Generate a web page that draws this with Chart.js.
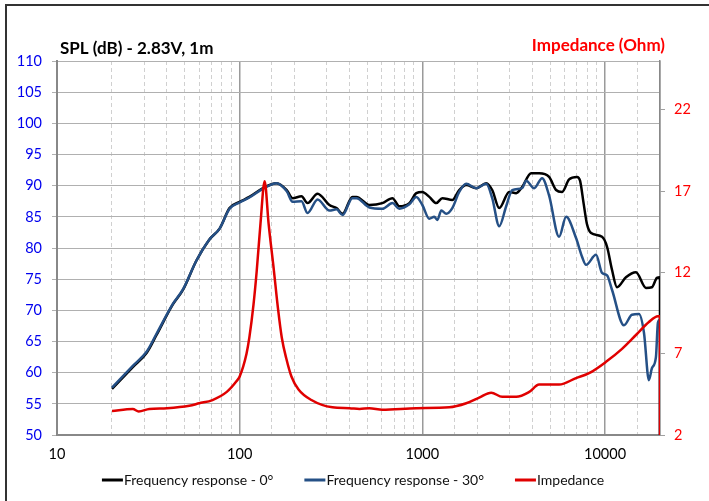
<!DOCTYPE html>
<html>
<head>
<meta charset="utf-8">
<script src="https://cdn.jsdelivr.net/npm/chart.js@4.4.1/dist/chart.umd.min.js"></script>
<style>
  html, body { margin: 0; padding: 0; background: #fff; }
  #wrap { width: 709px; height: 501px; position: relative; }
</style>
</head>
<body>
<div id="wrap"><canvas id="chart"></canvas></div>
<script>
// frequency response, 0 degrees
const freq0 = [20, 26, 31, 35, 43, 49, 58, 68, 78, 88,
  100, 113, 134, 159, 181, 195, 218, 235, 267, 310,
  339, 366, 414, 436, 513, 604, 686, 748, 849, 927,
  1000, 1092, 1192, 1286, 1459, 1592, 1739, 1972, 2238, 2413,
  2636, 2988, 3264, 3520, 3941, 4357, 4943, 5396, 5822, 6359,
  7030, 7300, 7650, 7970, 8390, 9630, 10260, 10920, 11630, 13020,
  14770, 16750, 18060, 19240, 20000, 20000];
const spl0 = [57.4, 60.9, 63.2, 66.0, 70.9, 73.3, 78.0, 81.3, 83.2, 86.4,
  87.4, 88.2, 89.6, 90.4, 89.3, 88.0, 88.3, 87.2, 88.7, 86.9,
  86.4, 85.5, 88.2, 88.2, 86.9, 87.2, 88.0, 86.7, 87.2, 88.8,
  89.0, 88.2, 87.2, 88.0, 87.7, 89.3, 90.1, 89.6, 90.4, 89.3,
  86.4, 89.0, 88.8, 89.8, 92.0, 92.0, 91.4, 89.3, 89.0, 91.0,
  91.4, 90.8, 87.0, 83.8, 82.4, 81.8, 80.2, 76.5, 73.7, 75.3,
  76.1, 73.6, 73.7, 75.2, 75.3, 40];

// frequency response, 30 degrees
const freq30 = [20, 26, 31, 35, 43, 49, 58, 68, 78, 88,
  100, 113, 134, 159, 181, 195, 218, 235, 267, 310,
  339, 366, 414, 436, 513, 604, 686, 748, 849, 927,
  1000, 1092, 1163, 1208, 1270, 1352, 1459, 1592, 1739, 1972,
  2238, 2413, 2636, 2877, 3104, 3520, 3700, 4093, 4526, 4943,
  5607, 6124, 6941, 7488, 7870, 8931, 9630, 10260, 10920, 12700,
  14050, 15340, 16340, 17390, 18060, 19000, 19480, 20000, 20000];
const spl30 = [57.6, 61.1, 63.4, 66.2, 71.0, 73.4, 78.0, 81.3, 83.2, 86.3,
  87.3, 88.1, 89.5, 90.4, 89.1, 87.4, 87.5, 85.6, 87.8, 86.0,
  86.2, 85.3, 88.0, 88.0, 86.5, 86.3, 87.2, 86.3, 87.0, 88.2,
  86.9, 84.7, 85.0, 84.5, 86.0, 85.5, 86.4, 89.0, 90.3, 89.6,
  90.3, 88.0, 83.5, 86.7, 89.3, 89.6, 90.8, 89.6, 91.2, 88.4,
  81.8, 85.0, 81.6, 78.6, 77.3, 78.9, 76.0, 75.6, 73.3, 67.6,
  69.3, 69.4, 66.4, 58.8, 60.7, 62.5, 68.0, 68.5, 40];

// impedance
const impFreq = [20, 26, 28, 32, 40, 53, 60, 71, 85, 96,
  100, 109, 113, 119, 124, 130, 137, 144, 154, 162,
  170, 180, 192, 210, 247, 322, 399, 453, 513, 604,
  927, 1405, 1739, 2047, 2383, 2737, 3264, 3846, 4357, 5130,
  5607, 6941, 8177, 10127, 12390, 14770, 17390, 19480, 20000, 20000];
const imp = [3.48, 3.6, 3.45, 3.6, 3.65, 3.8, 3.95, 4.15, 4.65, 5.3,
  5.6, 7.0, 8.0, 10.0, 12.1, 15.0, 17.6, 15.0, 12.1, 9.8,
  8.0, 6.7, 5.6, 4.8, 4.15, 3.7, 3.65, 3.6, 3.65, 3.55,
  3.65, 3.7, 3.95, 4.3, 4.6, 4.35, 4.35, 4.65, 5.1, 5.1,
  5.1, 5.5, 5.8, 6.5, 7.3, 8.15, 8.95, 9.3, 9.3, 0];

const decades = [10, 100, 1000, 10000];
const impTicks = [2, 7, 12, 17, 22];
const seriesNames = ["Frequency response - 0°", "Frequency response - 30°", "Impedance"];

const FONT = 'Lato, "Noto Sans", sans-serif';
Chart.defaults.font.family = FONT;

function pts(xs, ys) {
  return xs.map((x, i) => ({ x: x, y: ys[i] }));
}

// titles, frame and legend drawn on top
const decor = {
  id: "decor",
  afterDraw(chart) {
    const c = chart.ctx;
    c.save();
    // outer frame (only top/left visible)
    c.strokeStyle = "#333";
    c.lineWidth = 2;
    c.beginPath();
    c.moveTo(6, 501);
    c.lineTo(6, 5);
    c.lineTo(709, 5);
    c.stroke();

    c.textBaseline = "alphabetic";
    c.font = "bold 17px " + FONT;
    c.fillStyle = "#000";
    c.textAlign = "left";
    c.fillText("SPL (dB) - 2.83V, 1m", 60, 54);
    c.fillStyle = "#ff0000";
    c.textAlign = "right";
    c.fillText("Impedance (Ohm)", 665, 51);

    // legend
    c.font = "14px " + FONT;
    c.textAlign = "left";
    c.textBaseline = "middle";
    const ds = chart.data.datasets;
    const widths = ds.map(d => 22 + c.measureText(d.label).width);
    const gap = 31;
    const total = widths.reduce((a, b) => a + b, 0) + gap * (ds.length - 1);
    let x = 353 - total / 2;
    const y = 480;
    ds.forEach((d, i) => {
      c.strokeStyle = d.borderColor;
      c.lineWidth = 3;
      c.beginPath();
      c.moveTo(x, y);
      c.lineTo(x + 21, y);
      c.stroke();
      c.fillStyle = "#111";
      c.fillText(d.label, x + 22, y);
      x += widths[i] + gap;
    });
    c.restore();
  }
};

const isMajor = v => decades.includes(v) || v === 20000;

new Chart(document.getElementById("chart"), {
  type: "line",
  data: {
    datasets: [
      { label: seriesNames[0], data: pts(freq0, spl0), borderColor: "#000000", borderWidth: 2.5, yAxisID: "y", order: 3 },
      { label: seriesNames[1], data: pts(freq30, spl30), borderColor: "#255086", borderWidth: 2.5, yAxisID: "y", order: 2 },
      { label: seriesNames[2], data: pts(impFreq, imp), borderColor: "#e00000", borderWidth: 2.5, yAxisID: "y2", order: 1 }
    ]
  },
  options: {
    responsive: true,
    maintainAspectRatio: false,
    animation: false,
    devicePixelRatio: 1,
    layout: { padding: { top: 61, left: 0, right: 0, bottom: 0 } },
    elements: {
      point: { radius: 0 },
      line: { cubicInterpolationMode: "monotone", fill: false }
    },
    plugins: {
      legend: { display: false },
      tooltip: { enabled: false }
    },
    scales: {
      x: {
        type: "logarithmic",
        min: 10,
        max: 20000,
        ticks: {
          autoSkip: false,
          maxRotation: 0,
          padding: 11,
          color: "#000",
          font: { size: 14.5 },
          callback: v => decades.includes(v) ? String(v) : ""
        },
        grid: {
          drawTicks: false,
          color: ctx => ctx.tick && isMajor(ctx.tick.value) ? "#9a9a9a" : "#d0d0d0",
          lineWidth: ctx => ctx.tick && isMajor(ctx.tick.value) ? 1.5 : 1
        },
        border: {
          color: "#888",
          width: 2,
          dash: ctx => ctx.tick && !isMajor(ctx.tick.value) ? [4, 3] : []
        },
        afterFit: s => { s.height = 66; }
      },
      y: {
        position: "left",
        min: 50,
        max: 110,
        ticks: { stepSize: 5, color: "#0000ee", padding: 10, font: { size: 14.5 } },
        grid: { color: "#b0b0b0", lineWidth: 1, tickLength: 5 },
        border: { color: "#888", width: 2 },
        afterFit: s => { s.width = 57; }
      },
      y2: {
        position: "right",
        min: 2,
        max: 25,
        afterBuildTicks: s => { s.ticks = impTicks.map(v => ({ value: v })); },
        ticks: { color: "#ff0000", padding: 9, font: { size: 14.5 } },
        grid: { drawOnChartArea: false, tickLength: 5, color: "#a0a0a0" },
        border: { color: "#888", width: 1.5 },
        afterFit: s => { s.width = 49; }
      }
    }
  },
  plugins: [decor]
});
</script>
</body>
</html>
